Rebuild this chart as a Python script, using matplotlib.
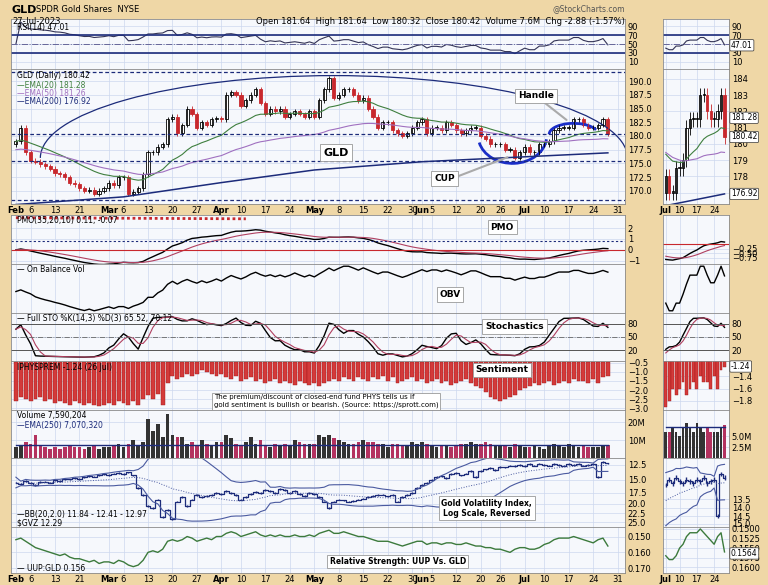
import numpy as np
import pandas as pd
import matplotlib
matplotlib.use("Agg")
import matplotlib.pyplot as plt
from matplotlib.patches import Rectangle, Arc

W, H = 768, 585
# ---------------- data ----------------
holidays = ["2023-02-20", "2023-04-07", "2023-05-29", "2023-06-19", "2023-07-04"]
dates = pd.bdate_range("2023-02-01", "2023-07-27")
dates = dates[~dates.isin(pd.to_datetime(holidays))]

close_feb = [179, 181.5, 177, 175.5, 175.3, 174.8, 174.5, 174.0, 173.2, 173.0, 172.5, 171.5, 171.2, 170.5, 170.0, 170.2, 169.5, 170.0, 170.5]
close_mar = [171.5, 171.0, 172.5, 172.5, 169.5, 169.8, 170.5, 173.0, 177.0, 177.0, 178.0, 178.5, 183.0, 183.5, 180.5, 182.0, 185.0, 184.0, 181.5, 182.5, 182.0, 183.0, 183.2]
close_apr = [183.0, 187.5, 188.0, 187.5, 185.5, 186.5, 187.5, 188.5, 186.0, 184.0, 185.0, 184.5, 185.0, 183.5, 184.0, 184.5, 184.0, 183.5, 184.5]
close_may = [183.5, 186.5, 188.5, 190.5, 187.0, 187.5, 188.5, 188.5, 187.5, 186.5, 187.0, 185.0, 183.5, 181.5, 182.5, 182.5, 181.0, 180.5, 180.0, 180.5, 181.5, 182.5]
close_jun = [183.0, 180.5, 181.5, 181.5, 181.0, 182.5, 182.0, 181.0, 180.5, 181.0, 181.5, 181.5, 180.0, 179.5, 178.5, 178.5, 178.5, 177.5, 177.5, 176.0, 177.0]
close_jul = [178.0, 177.0, 177.0, 178.5, 178.5, 179.0, 181.0, 181.5, 181.5, 181.5, 183.0, 183.0, 182.0, 181.5, 181.5, 182.0, 183.0, 180.42]
closes = close_feb + close_mar + close_apr + close_may + close_jun + close_jul

volume_m = [6, 7, 9, 8, 13, 7, 6, 5, 6, 5, 6, 7, 6, 6, 5, 6, 7, 5, 6,
            6, 7, 8, 6, 8, 10, 7, 9, 22, 15, 19, 12, 25, 13, 12, 12, 8, 9, 7, 10, 8, 7, 9,
            9, 13, 11, 8, 7, 9, 12, 8, 10, 7, 6, 8, 7, 8, 7, 10, 9, 8, 8,
            8, 13, 12, 13, 11, 10, 9, 8, 8, 9, 10, 9, 9, 8, 8, 6, 8, 8, 7, 7, 9, 8,
            9, 8, 7, 6, 7, 7, 6, 7, 8, 8, 9, 8, 8, 9, 8, 7, 7, 7, 6, 8, 7,
            6, 6, 7, 6, 5, 7, 8, 7, 6, 8, 7, 6, 7, 6, 6, 6, 7, 7.59]

phys_premium = [-2.6, -2.4, -2.5, -2.6, -2.5, -2.4, -2.6, -2.5, -2.7, -2.6, -2.7, -2.8, -2.6, -2.7, -2.8, -2.7, -2.8, -2.9, -2.8,
                -2.7, -2.8, -2.6, -2.7, -2.8, -2.6, -2.8, -2.5, -2.3, -2.5, -2.2, -2.8, -1.6, -1.2, -1.4, -1.3, -1.1, -1.2, -1.1, -0.9, -1.0, -1.1, -1.2,
                -1.1, -1.3, -1.4, -1.2, -1.5, -1.4, -1.3, -1.5, -1.4, -1.6, -1.5, -1.4, -1.6, -1.5, -1.6, -1.7, -1.5, -1.6, -1.7,
                -1.6, -1.8, -1.6, -1.5, -1.4, -1.5, -1.3, -1.4, -1.5, -1.3, -1.4, -1.5, -1.3, -1.4, -1.2, -1.5, -1.3, -1.6, -1.5, -1.4, -1.3, -1.5,
                -1.4, -1.6, -1.5, -1.4, -1.6, -1.5, -1.7, -1.6, -1.5, -1.4, -1.6, -1.8, -1.9, -2.1, -2.4, -2.5, -2.6, -2.5, -2.4, -2.3, -2.0,
                -1.9, -1.8, -1.6, -1.7, -1.6, -1.5, -1.7, -1.6, -1.5, -1.6, -1.4, -1.5, -1.5, -1.6, -1.4, -1.6, -1.3, -1.24]

gvz = [15.5, 15.8, 15.2, 15.6, 15.9, 15.4, 15.3, 15.5, 15.0, 15.2, 14.8, 14.9, 14.6, 14.8, 14.5, 14.3, 14.4, 14.2, 14.0,
       14.1, 13.9, 13.8, 14.0, 13.7, 14.2, 16.5, 18.0, 20.5, 21.0, 19.0, 23.5, 21.5, 24.0, 19.5, 18.5, 20.5, 19.0, 18.0, 18.5, 18.2, 18.0, 17.5,
       17.8, 17.2, 17.5, 18.0, 19.0, 18.5, 17.8, 17.3, 17.5, 17.0, 17.2, 17.6, 16.8, 17.0, 17.5, 17.2, 17.8, 18.2, 17.5,
       17.8, 18.5, 19.5, 21.0, 19.5, 19.0, 19.2, 19.5, 19.3, 19.0, 18.8, 18.5, 18.2, 18.0, 17.9, 18.3, 18.0, 19.5, 18.5, 18.0, 17.5, 16.5,
       16.0, 15.5, 15.0, 14.5, 14.3, 14.6, 14.0, 13.8, 14.2, 13.9, 13.5, 14.5, 13.5, 13.2, 13.0, 13.3, 12.8, 12.9, 12.6, 12.7, 12.5,
       12.7, 12.4, 12.6, 12.3, 12.5, 12.6, 12.4, 12.5, 12.6, 12.4, 12.5, 12.3, 12.6, 12.5, 12.4, 14.5, 12.1, 12.29]

uup_gld = [0.152, 0.151, 0.153, 0.155, 0.157, 0.158, 0.159, 0.160, 0.161, 0.162, 0.161, 0.163, 0.164, 0.164, 0.165, 0.166, 0.165, 0.167, 0.166,
           0.166, 0.167, 0.165, 0.166, 0.168, 0.169, 0.168, 0.165, 0.160, 0.159, 0.160, 0.158, 0.153, 0.152, 0.153, 0.152, 0.150, 0.151, 0.153, 0.152, 0.151, 0.152, 0.150,
           0.150, 0.148, 0.147, 0.148, 0.150, 0.149, 0.148, 0.147, 0.149, 0.150, 0.149, 0.150, 0.149, 0.150, 0.150, 0.149, 0.150, 0.150, 0.149,
           0.150, 0.148, 0.147, 0.146, 0.148, 0.148, 0.147, 0.148, 0.149, 0.150, 0.150, 0.151, 0.152, 0.153, 0.153, 0.153, 0.154, 0.155, 0.156, 0.155, 0.154, 0.153,
           0.153, 0.155, 0.154, 0.154, 0.155, 0.154, 0.154, 0.155, 0.155, 0.154, 0.155, 0.156, 0.156, 0.157, 0.157, 0.158, 0.158, 0.159, 0.160, 0.158, 0.157,
           0.157, 0.158, 0.158, 0.157, 0.155, 0.154, 0.152, 0.151, 0.151, 0.151, 0.150, 0.151, 0.152, 0.153, 0.154, 0.152, 0.151, 0.156]

ema200_dates = ["2023-02-01", "2023-03-06", "2023-04-03", "2023-05-01", "2023-06-01", "2023-07-03", "2023-07-27"]
ema200_vals = [167.5, 168.9, 171.5, 173.8, 175.3, 176.2, 176.92]

tick_dates = ["2023-02-01", "2023-02-06", "2023-02-13", "2023-02-21", "2023-03-01", "2023-03-06", "2023-03-13", "2023-03-20", "2023-03-27",
              "2023-04-03", "2023-04-10", "2023-04-17", "2023-04-24", "2023-05-01", "2023-05-08", "2023-05-15", "2023-05-22", "2023-05-30",
              "2023-06-01", "2023-06-05", "2023-06-12", "2023-06-20", "2023-06-26", "2023-07-03", "2023-07-10", "2023-07-17", "2023-07-24"]
tick_labels = ["Feb", "6", "13", "21", "Mar", "6", "13", "20", "27", "Apr", "10", "17", "24", "May", "8", "15", "22", "30",
               "Jun", "5", "12", "20", "26", "Jul", "10", "17", "24"]
mini_tick_dates = ["2023-07-03", "2023-07-10", "2023-07-17", "2023-07-24"]
mini_tick_labels = ["Jul", "10", "17", "24"]

# ---------------- derived series ----------------
c = pd.Series(closes, dtype=float)
o = c.shift(1).fillna(c.iloc[0] - 0.5)
hi = np.maximum(o, c) + 0.45
lo = np.minimum(o, c) - 0.45
vol = pd.Series(volume_m) * 1e6
ema20 = c.ewm(span=20, adjust=False).mean()
ema50 = c.ewm(span=50, adjust=False).mean() - 1.5
idx = np.arange(len(c))
date_pos = {d: i for i, d in enumerate(dates)}
e200x = [date_pos[pd.Timestamp(d)] for d in ema200_dates]

d = c.diff()
up = d.clip(lower=0).ewm(alpha=1 / 14, adjust=False).mean()
dn = (-d.clip(upper=0)).ewm(alpha=1 / 14, adjust=False).mean()
rsi = (100 - 100 / (1 + up / dn.replace(0, 1e-9))).fillna(50)
roc = c.pct_change().fillna(0) * 100
pmo = (roc.ewm(alpha=2 / 35, adjust=False).mean() * 10).ewm(alpha=2 / 20, adjust=False).mean()
pmo_sig = pmo.ewm(span=10, adjust=False).mean()
obv = (np.sign(d.fillna(0)) * vol).cumsum()
ll = lo.rolling(14, min_periods=1).min()
hh = hi.rolling(14, min_periods=1).max()
fk = ((c - ll) / (hh - ll) * 100).rolling(3, min_periods=1).mean()
fd = fk.rolling(3, min_periods=1).mean()
volema = pd.Series(np.full(len(c), 7.07e6))
g = pd.Series(gvz)
mid = g.rolling(20, min_periods=1).mean()
sd = g.rolling(20, min_periods=1).std().fillna(0.5)
bbu, bbl = mid + 2 * sd, mid - 2 * sd

# ---------------- figure ----------------
BG = "#efd7a6"
PANEL = "#f6f8fc"
GRID = "#cdd8ee"
NAVY = "#1c2b7a"
RED = "#c8282d"
plt.rcParams["font.family"] = ["DejaVu Sans"]
fig = plt.figure(figsize=(W / 100, H / 100), dpi=100, facecolor=BG)


def ax_at(x0, y0, x1, y1):
    a = fig.add_axes([x0 / W, 1 - y1 / H, (x1 - x0) / W, (y1 - y0) / H])
    a.set_facecolor(PANEL)
    a.tick_params(axis="both", labelsize=6, length=0, pad=2)
    a.yaxis.tick_right()
    for s in a.spines.values():
        s.set_color("#8a8a8a")
        s.set_linewidth(0.6)
    a.grid(True, color=GRID, lw=0.5)
    a.set_axisbelow(True)
    return a


panels = [(19, 69), (69, 204), (215, 264), (264, 313), (313, 361), (361, 410), (410, 458), (458, 527), (527, 573)]
tick_pos = [date_pos[pd.Timestamp(t)] for t in tick_dates]
mini_pos = [date_pos[pd.Timestamp(t)] for t in mini_tick_dates]


def draw(x0, x1, sl, xlim, ticks, mini=False):
    xs = idx[sl]
    axs = [ax_at(x0, a, x1, b) for a, b in panels]
    for a in axs:
        a.set_xticks(ticks)
        a.tick_params(axis="x", labelbottom=False)
    # RSI
    a = axs[0]
    a.plot(xs, rsi[sl], color="#333355", lw=0.8)
    a.axhline(70, color=NAVY, lw=1.2); a.axhline(30, color=NAVY, lw=1.2)
    a.axhline(50, color="#666699", lw=0.7, ls="-.")
    a.set_ylim(-7, 107); a.set_yticks([10, 30, 50, 70, 90])
    # price
    a = axs[1]
    for i in xs:
        col = RED if c[i] < o[i] else "black"
        a.vlines(i, lo[i], hi[i], color=col, lw=0.6)
        bot, h = min(o[i], c[i]), max(abs(c[i] - o[i]), 0.08)
        a.add_patch(Rectangle((i - 0.32, bot), 0.64, h, facecolor=(RED if col == RED else "white"), edgecolor=col, lw=0.6))
    a.plot(xs, ema20[sl], color="#3f7f3f", lw=0.8)
    a.plot(xs, ema50[sl], color="#a070c0", lw=0.8)
    a.plot(e200x, ema200_vals, color=NAVY, lw=1.1)
    if mini:
        a.set_ylim(176.3, 184.6); a.set_yticks([177, 178, 179, 180, 181, 182, 183, 184])
        a.yaxis.set_major_formatter(matplotlib.ticker.FormatStrFormatter("%d"))
    else:
        a.set_ylim(167.6, 192.2); a.set_yticks(np.arange(170, 191, 2.5))
        a.yaxis.set_major_formatter(matplotlib.ticker.FormatStrFormatter("%.1f"))
        for yv in (191.6, 180.3, 175.5, 168.3):
            a.axhline(yv, color=NAVY, lw=0.9, ls=(0, (3, 2)))
    # PMO
    a = axs[2]
    a.plot(xs, pmo[sl], color="black", lw=1.0); a.plot(xs, pmo_sig[sl], color="#b04060", lw=0.8)
    a.axhline(0, color=RED, lw=0.8)
    if mini:
        a.set_ylim(-1.1, 1.6); a.set_yticks([-0.75, -0.5, -0.25])
    else:
        a.axhline(0.8, color=NAVY, lw=0.8, ls=(0, (2, 2)))
        a.plot([0, 47], [2.95, 2.85], color=RED, lw=2, ls=(0, (1, 1)))
        a.set_ylim(-1.3, 3.2); a.set_yticks([-1, 0, 1, 2])
    # OBV
    a = axs[3]
    a.plot(xs, obv[sl], color="black", lw=1.0)
    a.set_yticks([])
    # STO
    a = axs[4]
    a.plot(xs, fk[sl], color="black", lw=1.0); a.plot(xs, fd[sl], color="#b04060", lw=0.8)
    a.axhline(80, color="#555", lw=0.7); a.axhline(20, color="#555", lw=0.7)
    a.axhline(50, color="#666", lw=0.6, ls="-.")
    a.set_ylim(-5, 105); a.set_yticks([20, 50, 80])
    # sentiment
    a = axs[5]
    prem = np.array(phys_premium)[sl]
    a.bar(xs, prem + 0.45, bottom=-0.45, width=0.8, color="#d33a3a", edgecolor="#a01818", lw=0.3)
    if mini:
        a.set_ylim(-1.95, -1.15); a.set_yticks([-1.8, -1.6, -1.4])
        a.cla() if False else None
    else:
        a.set_ylim(-3.1, -0.4); a.set_yticks([-3.0, -2.5, -2.0, -1.5, -1.0, -0.5])
    # volume
    a = axs[6]
    vcols = ["#b4325f" if c[i] < o[i] else "#333333" for i in xs]
    a.bar(xs, vol[sl], width=0.75, color=vcols)
    a.plot(xs, volema[sl], color=NAVY, lw=1.0)
    a.set_ylim(0, 27e6)
    if mini:
        a.set_ylim(0, 11e6); a.set_yticks([2.5e6, 5e6]); a.set_yticklabels(["2.5M", "5.0M"])
    else:
        a.set_yticks([10e6, 20e6]); a.set_yticklabels(["10M", "20M"])
    # GVZ
    a = axs[7]
    gv = g[sl]
    a.vlines(xs, gv * 0.99, gv * 1.01, color=NAVY, lw=1.0)
    a.plot(xs, gv, color=NAVY, lw=0.9, drawstyle="steps-mid")
    a.plot(xs, bbu[sl], color="#4a5aa0", lw=0.8); a.plot(xs, bbl[sl], color="#4a5aa0", lw=0.8)
    a.plot(xs, mid[sl], color="#4a5aa0", lw=0.7, ls=":")
    a.set_yscale("log")
    if mini:
        a.set_ylim(15.2, 11.3)
        a.set_yticks([13.5, 14.0, 14.5, 15.0]); a.set_yticklabels(["13.5", "14.0", "14.5", "15.0"])
    else:
        a.set_ylim(26.5, 11.5)
        a.set_yticks([12.5, 15, 17.5, 20, 22.5, 25]); a.set_yticklabels(["12.5", "15.0", "17.5", "20.0", "22.5", "25.0"])
    a.minorticks_off()
    # RS
    a = axs[8]
    a.plot(xs, np.array(uup_gld)[sl], color="#3c7a3c", lw=1.0)
    if mini:
        a.set_ylim(0.1615, 0.1495); a.set_yticks([0.150, 0.1525, 0.155, 0.1575, 0.160])
        a.yaxis.set_major_formatter(matplotlib.ticker.FormatStrFormatter("%.4f"))
    else:
        a.set_ylim(0.173, 0.144); a.set_yticks([0.150, 0.160, 0.170])
        a.yaxis.set_major_formatter(matplotlib.ticker.FormatStrFormatter("%.3f"))
    for a in axs:
        a.set_xlim(*xlim)
    return axs


n = len(c)
axs = draw(11, 625, slice(0, n), (-1, 124.5), tick_pos)
mx = draw(663, 729, slice(n - 18, n), (n - 18.8, n + 0.3), mini_pos, mini=True)

for a in (axs[1], axs[8]):
    a.tick_params(axis="x", labelbottom=True, labelsize=6, pad=1.5)
    a.set_xticks(tick_pos + [123]); a.set_xticklabels(tick_labels + ["31"])
    for lab in a.get_xticklabels():
        if lab.get_text() in ("Feb", "Mar", "Apr", "May", "Jun", "Jul"):
            lab.set_fontweight("bold")
    a.set_xlim(-1, 124.5)
for a in (mx[1], mx[8]):
    a.set_xticks(mini_pos); a.set_xticklabels(mini_tick_labels)
    a.tick_params(axis="x", labelbottom=True, labelsize=6, pad=1.5)
    a.get_xticklabels()[0].set_fontweight("bold")
    a.set_xlim(n - 18.8, n + 0.3)

# header
fig.text(12 / W, 1 - 10 / H, "GLD", fontsize=8, fontweight="bold", va="center")
fig.text(36 / W, 1 - 10 / H, "SPDR Gold Shares  NYSE", fontsize=6, va="center")
fig.text(12 / W, 1 - 21 / H, "27-Jul-2023", fontsize=6, va="center")
fig.text(625 / W, 1 - 21 / H, "Open 181.64  High 181.64  Low 180.32  Close 180.42  Volume 7.6M  Chg -2.88 (-1.57%)",
         fontsize=6, va="center", ha="right")
fig.text(625 / W, 1 - 9 / H, "@StockCharts.com", fontsize=5.5, va="center", ha="right", color="#555")


def leg(a, txt, y=0.93, color="black"):
    a.text(0.01, y, txt, transform=a.transAxes, fontsize=5.5, va="top", color=color)


leg(axs[0], "RSI(14) 47.01", 0.92)
leg(axs[1], "GLD (Daily) 180.42", 0.985)
leg(axs[1], "—EMA(20) 181.28", 0.91, "#3f7f3f")
leg(axs[1], "—EMA(50) 181.26", 0.85, "#a070c0")
leg(axs[1], "—EMA(200) 176.92", 0.79, NAVY)
leg(axs[2], "PMO(35,20,10) 0.11, -0.07", 0.98)
leg(axs[3], "— On Balance Vol", 0.97)
leg(axs[4], "— Full STO %K(14,3) %D(3) 65.52, 70.12", 0.98)
leg(axs[5], "IPHYSPREM -1.24 (26 Jul)", 0.95)
leg(axs[6], "Volume 7,590,204", 0.97)
leg(axs[6], "—EMA(250) 7,070,320", 0.78, NAVY)
leg(axs[7], "—BB(20,2.0) 11.84 - 12.41 - 12.97", 0.24)
leg(axs[7], "$GVZ 12.29", 0.12)
leg(axs[8], "— UUP:GLD 0.156", 0.2)


def box(a, x, y, txt, fs=6.5, bold=True):
    a.text(x, y, txt, transform=a.transAxes, fontsize=fs, fontweight="bold" if bold else "normal",
           ha="center", va="center", bbox=dict(boxstyle="square,pad=0.3", fc="white", ec="#999", lw=0.6), zorder=10)


box(axs[1], 0.53, 0.38, "GLD", 8)
box(axs[1], 0.706, 0.19, "CUP")
box(axs[1], 0.855, 0.8, "Handle")
box(axs[2], 0.80, 0.75, "PMO")
box(axs[3], 0.715, 0.38, "OBV")
box(axs[4], 0.82, 0.72, "Stochastics")
box(axs[5], 0.80, 0.82, "Sentiment")
axs[5].text(0.33, 0.18, "The premium/discount of closed-end fund PHYS tells us if\ngold sentiment is bullish or bearish. (Source: https://sprott.com)",
            transform=axs[5].transAxes, fontsize=5, va="center", ha="left",
            bbox=dict(boxstyle="square,pad=0.3", fc="white", ec="#999", lw=0.6))
box(axs[7], 0.775, 0.27, "Gold Volatility Index,\nLog Scale, Reversed", 5.5)
box(axs[8], 0.63, 0.25, "Relative Strength: UUP Vs. GLD", 5.5)
axs[1].annotate("", xy=(101, 176.3), xytext=(87, 171.5), arrowprops=dict(arrowstyle="-", color="#aaa", lw=1.5))
axs[1].annotate("", xy=(113, 182.6), xytext=(107, 186.8), arrowprops=dict(arrowstyle="-", color="#aaa", lw=1.5))
axs[1].add_patch(Arc((65, 176), 120, 30, theta1=0, theta2=180, color=NAVY, lw=0.9))
axs[1].add_patch(Arc((101.5, 180), 14, 10, theta1=190, theta2=355, color="#1a2ec8", lw=2))
axs[1].add_patch(Arc((114, 180.3), 10, 4, theta1=10, theta2=180, color="#1a2ec8", lw=2))


def tag(a, y, txt):
    a.text(1.03, y, txt, transform=a.get_yaxis_transform(), fontsize=5.5, va="center", ha="left",
           bbox=dict(boxstyle="round,pad=0.15", fc="white", ec="#333", lw=0.5), zorder=20, clip_on=False)


tag(mx[1], 180.42, "180.42"); tag(mx[1], 181.6, "181.28"); tag(mx[1], 176.92, "176.92")
tag(mx[0], 47.01, "47.01")
tag(mx[5], -1.24, "-1.24")
tag(mx[8], 0.1564, "0.1564")

fig.savefig("out.png", dpi=100, facecolor=BG)
